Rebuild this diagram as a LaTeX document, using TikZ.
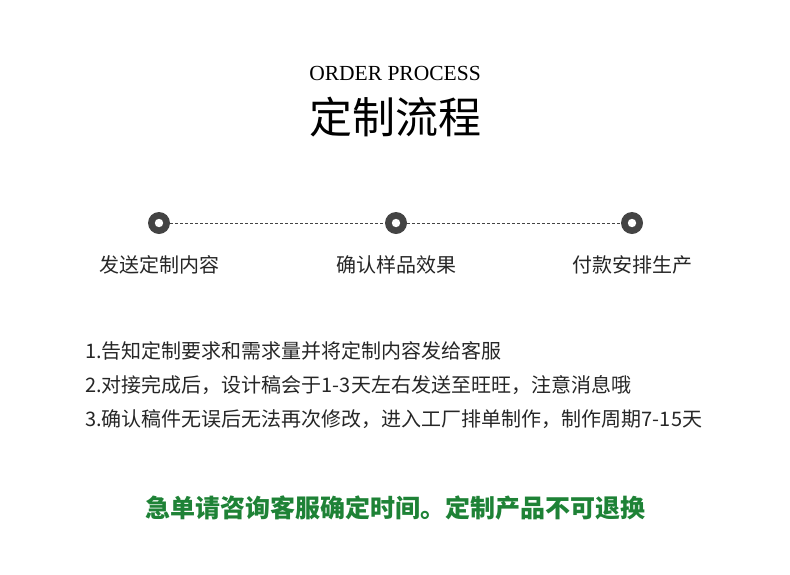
\documentclass[tikz,border=0pt]{standalone}
\usepackage{fontspec}
\setmainfont{Liberation Serif}
\newfontfamily\cjk{Noto Sans CJK SC}
\definecolor{dk}{HTML}{444444}
\definecolor{gr}{HTML}{1E8236}
\begin{document}
\begin{tikzpicture}[x=1pt,y=-1pt,
  dot/.style={circle,fill=dk,minimum size=22pt,inner sep=0pt,path picture={\fill[white] (path picture bounding box.center) circle (4.2pt);}},
  lbl/.style={text=black!85,font=\cjk\fontsize{20}{24}\selectfont},
  item/.style={anchor=west,text=black!85,font=\cjk\fontsize{20}{24}\selectfont,inner sep=0pt}]
\useasboundingbox (0,0) rectangle (790,574);
\node (en) at (395,73) {\fontsize{21.5}{24}\selectfont ORDER PROCESS};
\node (zh) at (395,117) {\cjk\fontsize{43}{48}\selectfont 定制流程};
\node[dot] (d1) at (159,223) {};
\node[dot] (d2) at (396,223) {};
\node[dot] (d3) at (632,223) {};
\draw[dk,dash pattern=on 3pt off 2pt,line width=0.6pt] (d1) -- (d2);
\draw[dk,dash pattern=on 3pt off 2pt,line width=0.6pt] (d2) -- (d3);
\node[lbl] (l1) at (159,265) {发送定制内容};
\node[lbl] (l2) at (396,265) {确认样品效果};
\node[lbl] (l3) at (632,265) {付款安排生产};
\node[item] (i1) at (85,351) {1.告知定制要求和需求量并将定制内容发给客服};
\node[item] (i2) at (85,385) {2.对接完成后，设计稿会于1-3天左右发送至旺旺，注意消息哦};
\node[item] (i3) at (85,419) {3.确认稿件无误后无法再次修改，进入工厂排单制作，制作周期7-15天};
\node[text=gr,font=\cjk\fontsize{25}{28}\selectfont\bfseries] (w) at (395,508) {急单请咨询客服确定时间。定制产品不可退换};
\end{tikzpicture}
\end{document}
